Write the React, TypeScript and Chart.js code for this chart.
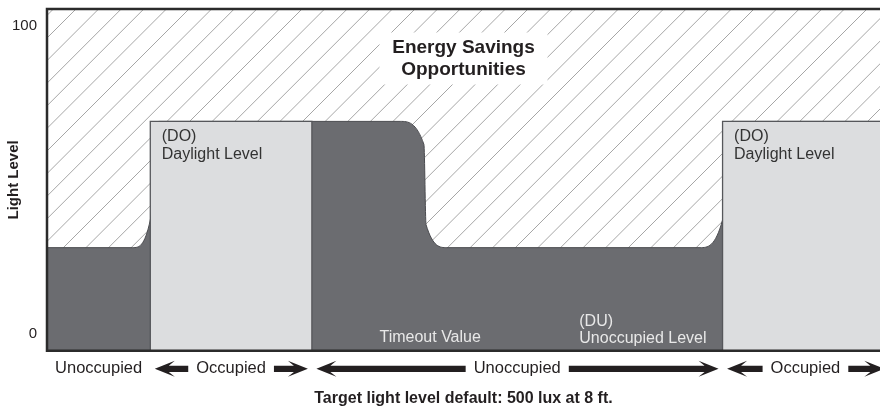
import React, { useEffect, useRef } from "react";
import { Chart, registerables } from "chart.js";

Chart.register(...registerables);

const FAMILY = "'Liberation Sans', Arial, Helvetica, sans-serif";

// ---- data ----
const lightLevelTicks = [0, 100];
const yMin = -5.5;
const yMax = 105.5;
const xMin = 0;
const xMax = 100;

// actual light output over the timeline (x: timeline %, y: light level %)
const actualX = [0, 10.3, 12.4, 13.4, 42.4, 45.25, 45.5, 48.0, 78.4, 81.1, 82.1, 100];
const actualY = [28, 28, 37, 69, 69, 61.5, 35.5, 28, 28, 37, 69, 69];

// occupied periods at daylight level (DO)
const occupiedStarts = [12.4, 81.1];
const occupiedEnds = [31.8, 102];
const daylightLevel = 69;

// occupancy periods shown under the axis
const periodLabels = ["Unoccupied", "Occupied", "Unoccupied", "Occupied"];
const periodStarts = [0, 12.4, 31.8, 81.1];
const periodEnds = [12.4, 31.8, 81.1, 101];
const periodArrows = [false, true, true, true];

const savingsLabel = ["Energy Savings", "Opportunities"];
const daylightLabel = ["(DO)", "Daylight Level"];
const unoccupiedLabel = ["(DU)", "Unoccupied Level"];
const timeoutLabel = "Timeout Value";
const yTitle = "Light Level";
const xTitle = "Target light level default: 500 lux at 8 ft.";

// annotation anchors (in data units)
const savingsAnchor = { x: 50, y: 93 };
const timeoutAnchorX = 46;
const unoccupiedAnchorX = 63.9;

const TEXT = "#231f20";

function drawArrow(ctx: CanvasRenderingContext2D, tipX: number, tailX: number, y: number) {
  const dir = tailX > tipX ? 1 : -1;
  const hl = 20, hh = 8, nl = 14, sw = 3.1;
  ctx.beginPath();
  ctx.moveTo(tipX, y);
  ctx.lineTo(tipX + dir * hl, y - hh);
  ctx.lineTo(tipX + dir * nl, y - sw);
  ctx.lineTo(tailX, y - sw);
  ctx.lineTo(tailX, y + sw);
  ctx.lineTo(tipX + dir * nl, y + sw);
  ctx.lineTo(tipX + dir * hl, y + hh);
  ctx.closePath();
  ctx.fill();
}

const hatchPlugin = {
  id: "hatch",
  beforeDatasetsDraw(chart: any) {
    const { ctx, chartArea: a, scales } = chart;
    const xs = scales.x, ys = scales.y;
    ctx.save();
    ctx.beginPath();
    ctx.rect(a.left, a.top, a.right - a.left, a.bottom - a.top);
    ctx.clip();
    ctx.fillStyle = "#ffffff";
    ctx.fillRect(a.left, a.top, a.right - a.left, a.bottom - a.top);
    ctx.strokeStyle = "#a6a6a6";
    ctx.lineWidth = 1;
    const s = 22.6;
    ctx.beginPath();
    for (let c = 85 - s * 10; c < a.right + a.bottom + s; c += s) {
      ctx.moveTo(c - a.bottom, a.bottom);
      ctx.lineTo(c - a.top, a.top);
    }
    ctx.stroke();
    // white box behind savings label
    const cx = xs.getPixelForValue(savingsAnchor.x);
    const cy = ys.getPixelForValue(savingsAnchor.y);
    ctx.fillStyle = "#ffffff";
    ctx.fillRect(cx - 84, cy - 15, 168, 52);
    ctx.fillStyle = TEXT;
    ctx.font = `bold 19px ${FAMILY}`;
    ctx.textAlign = "center";
    ctx.textBaseline = "middle";
    savingsLabel.forEach((t, i) => ctx.fillText(t, cx, cy + i * 22));
    ctx.restore();
  },
};

const labelsPlugin = {
  id: "labels",
  afterDatasetsDraw(chart: any) {
    const { ctx, chartArea: a, scales } = chart;
    const xs = scales.x, ys = scales.y;
    ctx.save();
    // frame
    ctx.strokeStyle = "#2b2b2b";
    ctx.lineWidth = 2.5;
    ctx.beginPath();
    ctx.moveTo(a.right + 2, a.top);
    ctx.lineTo(a.left, a.top);
    ctx.lineTo(a.left, a.bottom);
    ctx.lineTo(a.right + 2, a.bottom);
    ctx.stroke();

    ctx.font = `16px ${FAMILY}`;
    ctx.textAlign = "left";
    ctx.textBaseline = "alphabetic";
    // daylight labels
    ctx.fillStyle = "#333333";
    const topY = ys.getPixelForValue(daylightLevel);
    occupiedStarts.forEach((s) => {
      const px = xs.getPixelForValue(s) + 11.5;
      daylightLabel.forEach((t, i) => ctx.fillText(t, px, topY + 19.5 + i * 18));
    });
    // unoccupied / timeout labels
    ctx.fillStyle = "#e8e8e8";
    const bottomY = ys.getPixelForValue(yMin);
    ctx.textAlign = "center";
    ctx.fillText(timeoutLabel, xs.getPixelForValue(timeoutAnchorX), bottomY - 8.5);
    ctx.textAlign = "left";
    unoccupiedLabel.forEach((t, i) =>
      ctx.fillText(t, xs.getPixelForValue(unoccupiedAnchorX), bottomY - 25 + i * 17)
    );

    // period labels with arrows
    ctx.font = `16.5px ${FAMILY}`;
    ctx.fillStyle = TEXT;
    ctx.textAlign = "center";
    const ly = a.bottom + 22;
    const ay = a.bottom + 18;
    periodLabels.forEach((lab, i) => {
      const s = xs.getPixelForValue(periodStarts[i]);
      const e = xs.getPixelForValue(periodEnds[i]);
      const c = (s + e) / 2;
      ctx.fillText(lab, c, ly);
      if (periodArrows[i]) {
        const w = ctx.measureText(lab).width;
        drawArrow(ctx, s + 4.5, c - w / 2 - 8, ay);
        drawArrow(ctx, e - 4, c + w / 2 + 8, ay);
      }
    });
    ctx.restore();
  },
};

export default function App() {
  const ref = useRef<HTMLCanvasElement>(null);
  useEffect(() => {
    const canvas = ref.current!;
    const lightSets = occupiedStarts.map((s, i) => ({
      label: "Occupied (DO)",
      data: [
        { x: s, y: yMin },
        { x: s, y: daylightLevel },
        { x: occupiedEnds[i], y: daylightLevel },
        { x: occupiedEnds[i], y: yMin },
      ],
      borderColor: "#56575b",
      borderWidth: 1.3,
      backgroundColor: "#dcdddf",
      fill: "start",
      tension: 0,
      pointRadius: 0,
      order: 0,
    }));
    const darkSet = {
      label: "Light level",
      data: actualX.map((x, i) => ({ x, y: actualY[i] })),
      borderColor: "#4a4b4f",
      borderWidth: 1,
      backgroundColor: "#6b6c70",
      fill: "start",
      cubicInterpolationMode: "monotone",
      pointRadius: 0,
      order: 1,
    };
    const chart = new Chart(canvas, {
      type: "line",
      data: { datasets: [...lightSets, darkSet] as any },
      options: {
        responsive: false,
        animation: false,
        devicePixelRatio: 1,
        layout: { padding: { top: 9, left: 0, right: 0, bottom: 0 } },
        plugins: { legend: { display: false }, tooltip: { enabled: false } },
        scales: {
          x: {
            type: "linear",
            min: xMin,
            max: xMax,
            grid: { display: false, drawTicks: false },
            border: { display: false },
            ticks: { display: false },
            afterFit: (scale: any) => {
              scale.paddingLeft = 0;
              scale.paddingRight = 0;
            },
            title: {
              display: true,
              text: xTitle,
              color: TEXT,
              font: { family: FAMILY, size: 16, weight: "bold" },
              padding: { top: 38, bottom: 0 },
            },
          },
          y: {
            type: "linear",
            min: yMin,
            max: yMax,
            afterBuildTicks: (scale: any) => {
              scale.ticks = lightLevelTicks.map((v) => ({ value: v }));
            },
            afterFit: (scale: any) => {
              scale.width = 47;
              scale.paddingTop = 0;
              scale.paddingBottom = 0;
            },
            grid: { display: false, drawTicks: false },
            border: { display: false },
            ticks: { padding: 10, color: TEXT, font: { family: FAMILY, size: 15 } },
            title: {
              display: true,
              text: yTitle,
              color: TEXT,
              font: { family: FAMILY, size: 15, weight: "bold" },
              padding: { top: 5, bottom: 0 },
            },
          },
        },
      } as any,
      plugins: [hatchPlugin, labelsPlugin],
    });
    return () => chart.destroy();
  }, []);
  return (
    <div style={{ position: "absolute", left: 0, top: 0, width: 880, height: 408 }}>
      <canvas ref={ref} width={880} height={408} style={{ display: "block" }} />
    </div>
  );
}
